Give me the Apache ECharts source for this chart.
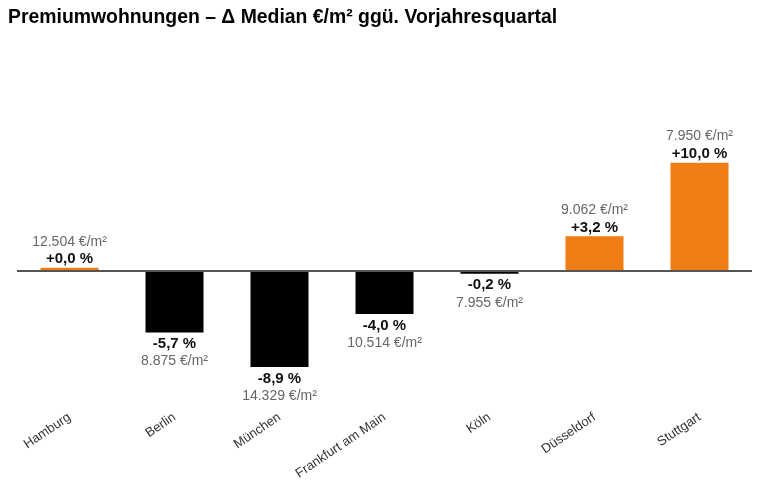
<!DOCTYPE html>
<html><head><meta charset="utf-8">
<script src="https://cdn.jsdelivr.net/npm/echarts@6/dist/echarts.min.js"></script>
<style>html,body{margin:0;padding:0;background:#fff}#c{width:758px;height:486px}</style>
</head><body><div id="c"></div>
<script>
var categories = ['Hamburg','Berlin','München','Frankfurt am Main','Köln','Düsseldorf','Stuttgart'];
var changePct = [0.0, -5.7, -8.9, -4.0, -0.2, 3.2, 10.0];
var pctLabels = ['+0,0 %','-5,7 %','-8,9 %','-4,0 %','-0,2 %','+3,2 %','+10,0 %'];
var priceLabels = ['12.504 €/m²','8.875 €/m²','14.329 €/m²','10.514 €/m²','7.955 €/m²','9.062 €/m²','7.950 €/m²'];

var ORANGE = '#EF7D14', BLACK = '#000000';
var FONT = 'Liberation Sans, Arial, sans-serif';
var data = changePct.map(function(v, i){
  var pos = v >= 0;
  return {
    value: v,
    itemStyle: {color: pos ? ORANGE : BLACK},
    label: {
      show: true,
      position: pos ? 'top' : 'bottom',
      distance: pos ? 0 : 3,
      formatter: pos ? ('{a|' + priceLabels[i] + '}\n{b|' + pctLabels[i] + '}')
                     : ('{b|' + pctLabels[i] + '}\n{a|' + priceLabels[i] + '}')
    }
  };
});

var chart = echarts.init(document.getElementById('c'), null, {renderer:'canvas'});
chart.setOption({
  animation: false,
  backgroundColor: '#fff',
  title: {
    text: 'Premiumwohnungen – Δ Median €/m² ggü. Vorjahresquartal',
    left: 3, top: 3,
    textStyle: {fontFamily: FONT, fontSize: 19.4, fontWeight: 'bold', color: '#000'}
  },
  grid: {left: 17, right: 6, top: 141, height: 265, containLabel: false},
  xAxis: {
    type: 'category', data: categories,
    axisLine: {show: false, onZero: false}, axisTick: {show: false},
    axisLabel: {rotate: 34, margin: 10, fontSize: 13, color: '#333', fontFamily: FONT, interval: 0}
  },
  yAxis: {type: 'value', min: -12.5, max: 12, show: false, splitLine: {show: false}},
  series: [{
    type: 'bar', data: data, barWidth: 58, barMinHeight: 3,
    label: {
      fontFamily: FONT,
      rich: {
        a: {color: '#666', fontSize: 14, lineHeight: 18, fontFamily: FONT},
        b: {color: '#111', fontSize: 15, fontWeight: 'bold', lineHeight: 17, fontFamily: FONT}
      }
    },
    markLine: {
      silent: true, symbol: 'none', label: {show: false},
      lineStyle: {color: '#555', width: 2, type: 'solid'},
      data: [{yAxis: 0}]
    },
    z: 3
  }]
});
</script></body></html>
